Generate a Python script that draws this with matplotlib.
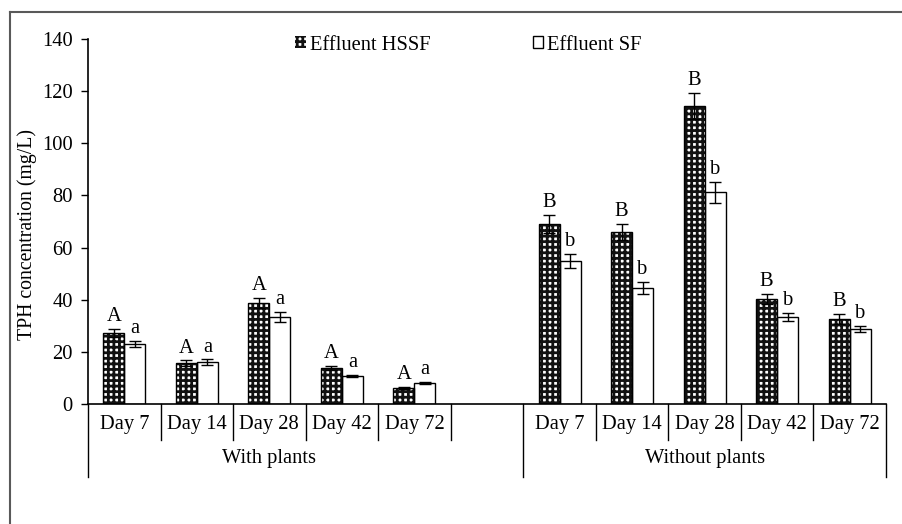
import numpy as np
import matplotlib
matplotlib.use("Agg")
import matplotlib.pyplot as plt
from matplotlib.lines import Line2D
from matplotlib.patches import Patch
import matplotlib.transforms as mtransforms

plt.rcParams['font.family'] = ['Liberation Serif', 'DejaVu Serif']
plt.rcParams['hatch.linewidth'] = 2.0
fs = 14.8

days = ['Day 7', 'Day 14', 'Day 28', 'Day 42', 'Day 72']
groups = ['With plants', 'Without plants']

# TPH values (mg/L)
hssf_with = [27.2, 15.7, 38.7, 13.8, 6.1]
sf_with = [23.0, 16.1, 33.4, 10.7, 8.1]
hssf_without = [69.0, 66.0, 114.3, 40.3, 32.6]
sf_without = [54.8, 44.5, 81.2, 33.4, 28.8]

hssf_err_with = [1.6, 1.0, 2.0, 0.7, 0.4]
sf_err_with = [1.2, 1.0, 1.9, 0.5, 0.5]
hssf_err_without = [3.5, 3.0, 5.0, 2.0, 1.9]
sf_err_without = [2.7, 2.3, 4.0, 1.5, 1.1]

hssf_letters = ['A'] * 5 + ['B'] * 5
sf_letters = ['a'] * 5 + ['b'] * 5

hssf = hssf_with + hssf_without
sf = sf_with + sf_without
hssf_err = hssf_err_with + hssf_err_without
sf_err = sf_err_with + sf_err_without

# slot positions: 5 with plants, one empty slot, 5 without plants
x = np.array([0, 1, 2, 3, 4, 6, 7, 8, 9, 10])
w = 0.29

fig = plt.figure(figsize=(9.03, 5.24), dpi=100)
ax = fig.add_axes([88/903, 120/524, 798/903, 365/524])

# HSSF bars: white face with dense black grid hatch -> dark with white holes
ax.bar(x - w/2, hssf, w, color='white', edgecolor='#111111', hatch='+++', linewidth=0, zorder=2)
ax.bar(x - w/2, hssf, w, fill=False, edgecolor='black', linewidth=1.0, zorder=3)
ax.bar(x + w/2, sf, w, color='white', edgecolor='black', linewidth=1.0, zorder=2)

ax.errorbar(x - w/2, hssf, yerr=hssf_err, fmt='none', ecolor='black', elinewidth=1, capsize=4, capthick=1, zorder=4)
ax.errorbar(x + w/2, sf, yerr=sf_err, fmt='none', ecolor='black', elinewidth=1, capsize=4, capthick=1, zorder=4)

for xi, v, e, t in zip(x - w/2, hssf, hssf_err, hssf_letters):
    ax.annotate(t, (xi, v + e), xytext=(0, 2), textcoords='offset points',
                ha='center', va='bottom', fontsize=fs)
for xi, v, e, t in zip(x + w/2, sf, sf_err, sf_letters):
    ax.annotate(t, (xi, v + e), xytext=(0, 2), textcoords='offset points',
                ha='center', va='bottom', fontsize=fs)

ax.set_xlim(-0.5, 10.5)
ax.set_ylim(0, 140)
ax.set_yticks(range(0, 141, 20))
ax.tick_params(axis='y', direction='out', length=5, width=1, labelsize=fs, pad=6)
ax.set_xticks([])
for s in ['top', 'right']:
    ax.spines[s].set_visible(False)
ax.spines['left'].set_linewidth(1.2)
ax.spines['bottom'].set_linewidth(1.2)
ax.set_ylabel('TPH concentration (mg/L)', fontsize=14.2)
ax.yaxis.set_label_coords(-0.064, 0.465)

# category axis drawn by hand
trans = mtransforms.blended_transform_factory(ax.transData, ax.transAxes)
short = [0.5, 1.5, 2.5, 3.5, 4.5, 6.5, 7.5, 8.5, 9.5]
long_ = [-0.5, 5.5, 10.5]
for b in short:
    ax.add_line(Line2D([b, b], [0, -0.0986], transform=trans, color='black', lw=1, clip_on=False))
for b in long_:
    ax.add_line(Line2D([b, b], [0, -0.2], transform=trans, color='black', lw=1, clip_on=False))
for xi, d in zip(x, days + days):
    ax.text(xi, -0.055, d, transform=trans, ha='center', va='center', fontsize=fs)
ax.text(2, -0.148, groups[0], transform=trans, ha='center', va='center', fontsize=fs)
ax.text(8, -0.148, groups[1], transform=trans, ha='center', va='center', fontsize=fs)

# legend
h1 = Patch(facecolor='white', edgecolor='#111111', hatch='+++', linewidth=0)
h2 = Patch(facecolor='white', edgecolor='black', linewidth=1)
ax.legend([h1, h2], ['Effluent HSSF', 'Effluent SF'], ncol=2, frameon=False,
          loc='upper center', bbox_to_anchor=(0.477, 1.06), fontsize=fs,
          handlelength=0.5, handleheight=0.5, handletextpad=0.2, columnspacing=5.0)

# chart border
fig.add_artist(Line2D([10/903, 10/903], [0, 1 - 12/524], transform=fig.transFigure, color='#595959', lw=1.5))
fig.add_artist(Line2D([10/903, 1], [1 - 12/524, 1 - 12/524], transform=fig.transFigure, color='#595959', lw=1.5))

fig.savefig('out.png', dpi=100)
